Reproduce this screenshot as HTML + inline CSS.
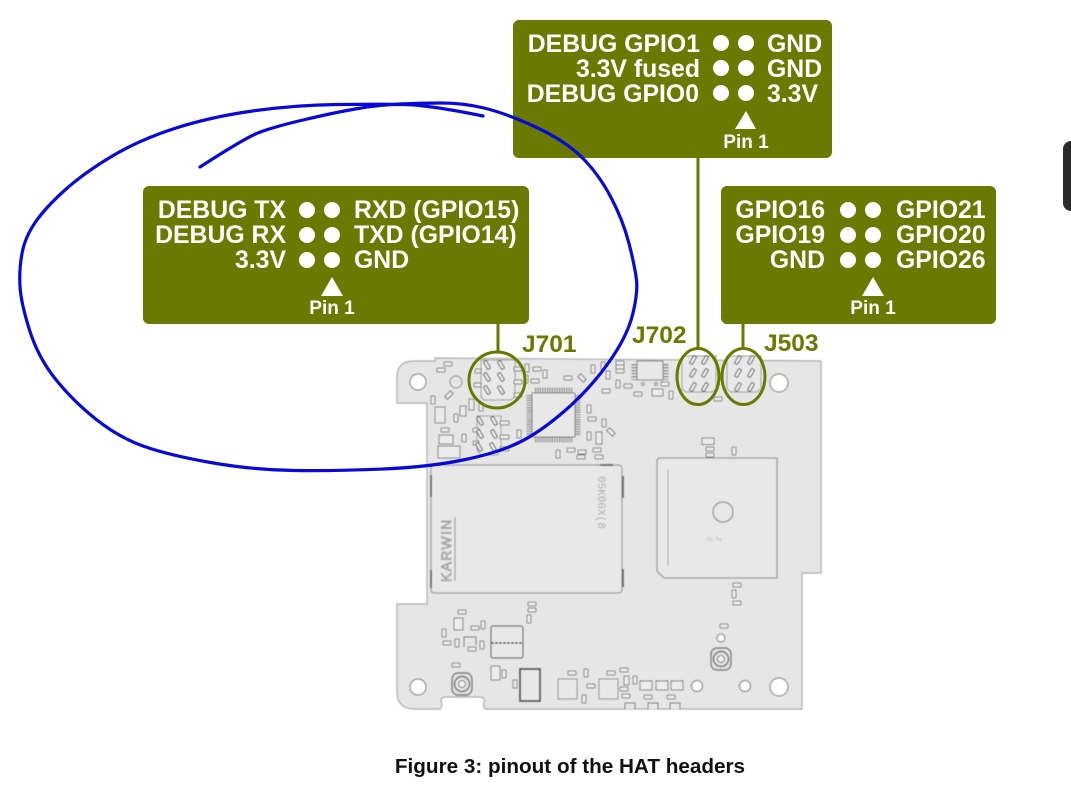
<!DOCTYPE html>
<html><head><meta charset="utf-8"><style>
html,body{margin:0;padding:0;background:#fff;width:1071px;height:800px;overflow:hidden}
svg{display:block}
.t{font-family:"Liberation Sans",sans-serif;font-weight:700;fill:#fff;font-size:24.8px}
.p{font-family:"Liberation Sans",sans-serif;font-weight:700;fill:#fff;font-size:19px;text-anchor:middle}
.r{text-anchor:end}
.j{font-family:"Liberation Sans",sans-serif;font-weight:700;fill:#6b7a00;font-size:24.5px}
.c{fill:#ececec;stroke:#777;stroke-width:1}
</style></head><body>
<svg width="1071" height="800" viewBox="0 0 1071 800" xmlns="http://www.w3.org/2000/svg">
<defs>
<filter id="b" x="-5%" y="-5%" width="110%" height="110%"><feGaussianBlur stdDeviation="0.45"/></filter>
<filter id="s" x="-2%" y="-2%" width="104%" height="104%"><feGaussianBlur stdDeviation="0.25"/></filter>
<rect id="h" x="-4" y="-2" width="8" height="4" rx=".6" class="c"/>
<rect id="v" x="-2" y="-4" width="4" height="8" rx=".6" class="c"/>
<rect id="pa" x="-1.7" y="-4.5" width="3.4" height="9" rx="1.4" transform="rotate(-30)" fill="#eee" stroke="#555"/>
<rect id="pb" x="-1.7" y="-4.5" width="3.4" height="9" rx="1.4" transform="rotate(30)" fill="#eee" stroke="#555"/>
<g id="sm"><path d="M-6 -4H6V5H-6Z" class="c"/><path d="M-5 -4v-1M5 -4v-1" stroke="#666"/></g>
<g id="rf"><rect x="-10" y="-11" width="20" height="22" rx="6" fill="#e2e2e2" stroke="#777" stroke-width="1.4"/><circle r="7.5" fill="#e6e6e6" stroke="#666" stroke-width="1.4"/><circle r="3.5" fill="#f4f4f4" stroke="#777"/></g>
</defs>
<rect width="1071" height="800" fill="#fff"/>
<rect x="1063" y="141" width="20" height="70" rx="8" fill="#2b2b2b"/>

<g filter="url(#b)">
<!-- board -->
<path d="M435 358V361H414Q397 361 397 377V403H427V604H397V692Q397 709 415 709H440Q443 706 441 701Q441 697 445 697H480Q485 697 484 702Q483 706 485 709H802V573H821V361Z" fill="#e6e6e6" stroke="#aaa" stroke-width="1.2"/>
<g fill="#fff" stroke="#888" stroke-width="1.2">
<circle cx="418" cy="382" r="8"/><circle cx="779" cy="383" r="9"/><circle cx="418" cy="687" r="8"/><circle cx="779" cy="687" r="9"/>
<circle cx="697" cy="686" r="5.5"/><circle cx="745" cy="686" r="5.5"/><circle cx="721" cy="638" r="4"/>
</g>

<!-- shield -->
<path d="M435 465H618Q622 465 622 469V590Q622 593 618 593H435Q431 593 431 590V469Q431 465 435 465Z" fill="#e8e8e8" stroke="#999" stroke-width="1.2"/>
<path d="M431 475v22M431 570v18M623 476v22M623 569v18M600 465h13" stroke="#666" stroke-width="2"/>
<text transform="translate(451 582) rotate(-90)" font-family="Liberation Sans,sans-serif" font-size="14" letter-spacing="1.3" fill="#e8e8e8" stroke="#777" stroke-width=".6">KARWIN</text>
<path d="M455 517V581" stroke="#888"/>
<text transform="translate(598 476) rotate(90)" font-family="Liberation Mono,monospace" font-size="11" fill="#aaa">05K00X(8</text>

<!-- module -->
<path d="M659 458H777V578H664L657 571V460Z" fill="#e8e8e8" stroke="#999" stroke-width="1.3"/>
<path d="M668 469V566" stroke="#aaa"/>
<circle cx="723" cy="512" r="10" fill="#e8e8e8" stroke="#888" stroke-width="1.2"/>
<text x="704" y="541" font-family="Liberation Sans,sans-serif" font-size="5" fill="#bbb">. Oy, Ra ·</text>

<!-- QFP -->
<path d="M535 390H573M535 440H573" stroke="#888" stroke-width="5" stroke-dasharray="1.2 1.2"/>
<path d="M529 395V436M578 395V436" stroke="#888" stroke-width="5" stroke-dasharray="1.2 1.2"/>
<rect x="532" y="393" width="43" height="44" fill="#e8e8e8" stroke="#777"/>

<!-- SOIC -->
<path d="M634 364V380M666 364V380" stroke="#888" stroke-width="5" stroke-dasharray="1.5 1.5"/>
<rect x="637" y="361" width="26" height="19" fill="#e8e8e8" stroke="#777"/>

<!-- connectors -->
<g fill="#e9e9e9" stroke="#999">
<path d="M481 360H515V397L510 400H484L481 397Z"/>
<path d="M477 416H501V450L497 455H481L477 450Z"/>
<path d="M682 356H716V389L712 392H686L682 389Z"/>
<path d="M727 356H761V389L757 392H731L727 389Z"/>
</g>
<g class="c">
<rect x="514" y="367" width="8" height="4" rx="1" class="c"/><rect x="514" y="380" width="8" height="4" rx="1" class="c"/><rect x="514" y="393" width="8" height="4" rx="1" class="c"/>
<rect x="475" y="369" width="6" height="4" rx="1" class="c"/><rect x="474" y="383" width="7" height="4" rx="1" class="c"/>
<rect x="500" y="421" width="9" height="4" rx="1" class="c"/><rect x="500" y="435" width="9" height="4" rx="1" class="c"/><rect x="500" y="447" width="9" height="4" rx="1" class="c"/>
<rect x="473" y="428" width="6" height="4" rx="1" class="c"/><rect x="473" y="441" width="6" height="4" rx="1" class="c"/>
</g>
<use href="#pa" x="487" y="365"/><use href="#pa" x="501" y="365"/><use href="#pa" x="487" y="377"/><use href="#pa" x="501" y="377"/><use href="#pa" x="487" y="390"/><use href="#pa" x="501" y="390"/>
<use href="#pa" x="480" y="421"/><use href="#pa" x="494" y="421"/><use href="#pa" x="480" y="434"/><use href="#pa" x="494" y="434"/><use href="#pa" x="479" y="447"/><use href="#pa" x="493" y="447"/>
<use href="#pb" x="693" y="360"/><use href="#pb" x="705" y="360"/><use href="#pb" x="693" y="373"/><use href="#pb" x="705" y="373"/><use href="#pb" x="693" y="387"/><use href="#pb" x="705" y="387"/>
<use href="#pb" x="738" y="360"/><use href="#pb" x="751" y="360"/><use href="#pb" x="738" y="373"/><use href="#pb" x="751" y="373"/><use href="#pb" x="738" y="387"/><use href="#pb" x="751" y="387"/>

<!-- small components top -->
<use href="#h" x="448" y="364"/><use href="#h" x="441" y="370"/><use href="#h" x="537" y="369"/><use href="#h" x="535" y="381"/><use href="#h" x="568" y="378"/>
<use href="#h" x="620" y="363"/><use href="#h" x="620" y="367"/><use href="#h" x="620" y="371"/><use href="#h" x="606" y="391"/><use href="#h" x="628" y="386"/><use href="#h" x="638" y="394"/><use href="#h" x="665" y="384"/><use href="#h" x="718" y="399"/>
<use href="#h" x="445" y="430"/><use href="#h" x="592" y="419"/><use href="#h" x="571" y="450"/><use href="#h" x="582" y="452"/><use href="#h" x="581" y="457"/><use href="#h" x="597" y="450"/><use href="#h" x="599" y="457"/>
<use href="#v" x="433" y="400"/><use href="#v" x="527" y="368"/><use href="#v" x="545" y="374"/><use href="#v" x="526" y="379"/><use href="#v" x="593" y="369"/><use href="#v" x="603" y="366"/><use href="#v" x="608" y="375"/><use href="#v" x="618" y="384"/><use href="#v" x="671" y="395"/>
<use href="#v" x="481" y="407"/><use href="#v" x="456" y="418"/><use href="#v" x="464" y="438"/><use href="#v" x="519" y="434"/><use href="#v" x="589" y="409"/><use href="#v" x="604" y="423"/><use href="#v" x="589" y="436"/><use href="#v" x="558" y="454"/>
<g class="c">
<rect x="445" y="393" width="8" height="4" transform="rotate(-45 449 395)" class="c"/>
<rect x="578" y="376" width="8" height="4" transform="rotate(45 582 378)" class="c"/>
<rect x="607" y="430" width="8" height="4" transform="rotate(45 611 432)" class="c"/>
<rect x="469" y="399" width="5" height="11" class="c"/><rect x="460" y="406" width="6" height="10" class="c"/>
<rect x="435" y="407" width="10" height="16" class="c"/>
<rect x="439" y="435" width="14" height="9" class="c"/><rect x="438" y="446" width="22" height="12" class="c"/>
<rect x="652" y="389" width="11" height="7" class="c"/><rect x="596" y="432" width="6" height="12" class="c"/>
</g>
<circle cx="456" cy="382" r="6" fill="#e6e6e6" stroke="#888"/><circle cx="643" cy="384" r="1.5" fill="#e6e6e6" stroke="#888"/><circle cx="656" cy="384" r="1.5" fill="#e6e6e6" stroke="#888"/>

<!-- above/below module -->
<rect x="702" y="438" width="12" height="6.5" class="c"/><use href="#h" x="710" y="449"/><use href="#h" x="710" y="455"/><use href="#v" x="734" y="451"/><use href="#h" x="737" y="585"/><use href="#v" x="734" y="594"/><use href="#h" x="737" y="603"/>

<!-- bottom components -->
<use href="#h" x="462" y="612"/><use href="#h" x="532" y="604"/><use href="#h" x="532" y="610"/><use href="#v" x="529" y="619"/><use href="#h" x="475" y="628"/><use href="#v" x="483" y="625"/><use href="#v" x="444" y="633"/><use href="#h" x="447" y="643"/><use href="#v" x="457" y="643"/><use href="#h" x="472" y="649"/><use href="#v" x="482" y="645"/><use href="#h" x="456" y="665"/>
<rect x="454" y="618" width="9" height="12" class="c"/>
<path d="M464 647V637H476V645" fill="none" stroke="#666"/>
<rect x="491" y="626" width="32" height="32" rx="2" fill="#e8e8e8" stroke="#666" stroke-width="1.2"/><path d="M491 643H523" stroke="#555" stroke-width="1.6" stroke-dasharray="3 1"/>
<use href="#rf" x="462" y="684"/><use href="#rf" x="721" y="659"/>
<rect x="491" y="666" width="9" height="14" class="c"/><use href="#v" x="504" y="674"/><use href="#v" x="515" y="684"/>
<rect x="520" y="669" width="20" height="32" fill="#e8e8e8" stroke="#555" stroke-width="2"/>
<use href="#h" x="572" y="673"/><use href="#v" x="586" y="673"/><use href="#h" x="591" y="686"/><use href="#v" x="584" y="699"/><use href="#h" x="611" y="673"/><use href="#h" x="624" y="670"/><use href="#v" x="635" y="680"/><use href="#h" x="624" y="689"/><use href="#h" x="626" y="696"/><use href="#h" x="648" y="697"/><use href="#h" x="671" y="697"/><use href="#h" x="724" y="626"/>
<rect x="558" y="679" width="19" height="20" fill="#e8e8e8" stroke="#888"/><rect x="599" y="679" width="19" height="20" fill="#e8e8e8" stroke="#888"/>
<rect x="624" y="676" width="5" height="9" class="c"/>
<use href="#sm" x="646" y="685"/><use href="#sm" x="662" y="685"/><use href="#sm" x="677" y="685"/>
<path d="M625 709V703H635V709M648 709V703H658V709M670 709V703H680V709" fill="#e8e8e8" stroke="#666"/>
</g>

<g filter="url(#s)">
<!-- circles & leaders -->
<path d="M498 324V352M698 158V348M743 324V348" stroke="#6b7a00" stroke-width="3" fill="none"/>
<g fill="none" stroke="#6b7a00" stroke-width="3">
<ellipse cx="497" cy="380" rx="28" ry="28"/><ellipse cx="698" cy="376.500" rx="21" ry="28"/><ellipse cx="743.500" cy="376.500" rx="21.500" ry="28"/>
</g>
<text class="j" x="522" y="352">J701</text><text class="j" x="632" y="343">J702</text><text class="j" x="764" y="351">J503</text>

<!-- top panel -->
<rect x="513" y="20" width="319" height="138" rx="6" fill="#6b7a00"/>
<text class="t r" x="700" y="52">DEBUG GPIO1</text><text class="t r" x="700" y="77">3.3V fused</text><text class="t r" x="699" y="102">DEBUG GPIO0</text>
<text class="t" x="767" y="52">GND</text><text class="t" x="767" y="77">GND</text><text class="t" x="767" y="102">3.3V</text>
<g fill="#fff"><circle cx="721" cy="43" r="8"/><circle cx="746" cy="43" r="8"/><circle cx="721" cy="68" r="8"/><circle cx="746" cy="68" r="8"/><circle cx="721" cy="93" r="8"/><circle cx="746" cy="93" r="8"/><path d="M746 111L756 129H735Z"/></g>
<text class="p" x="746" y="148">Pin 1</text>

<!-- left panel -->
<rect x="143" y="186" width="386" height="138" rx="6" fill="#6b7a00"/>
<text class="t r" x="286" y="218">DEBUG TX</text><text class="t r" x="286" y="243">DEBUG RX</text><text class="t r" x="286" y="268">3.3V</text>
<text class="t" x="354" y="218">RXD (GPIO15)</text><text class="t" x="354" y="243">TXD (GPIO14)</text><text class="t" x="354" y="268">GND</text>
<g fill="#fff"><circle cx="307" cy="210" r="8"/><circle cx="332" cy="210" r="8"/><circle cx="307" cy="235" r="8"/><circle cx="332" cy="235" r="8"/><circle cx="307" cy="260" r="8"/><circle cx="332" cy="260" r="8"/><path d="M332 277L343 296H321Z"/></g>
<text class="p" x="332" y="314">Pin 1</text>

<!-- right panel -->
<rect x="721" y="186" width="275" height="138" rx="6" fill="#6b7a00"/>
<text class="t r" x="825" y="218">GPIO16</text><text class="t r" x="825" y="243">GPIO19</text><text class="t r" x="825" y="268">GND</text>
<text class="t" x="896" y="218">GPIO21</text><text class="t" x="896" y="243">GPIO20</text><text class="t" x="896" y="268">GPIO26</text>
<g fill="#fff"><circle cx="848" cy="210" r="8"/><circle cx="873" cy="210" r="8"/><circle cx="848" cy="235" r="8"/><circle cx="873" cy="235" r="8"/><circle cx="848" cy="260" r="8"/><circle cx="873" cy="260" r="8"/><path d="M873 277L884 296H862Z"/></g>
<text class="p" x="873" y="314">Pin 1</text>
</g>

<!-- blue annotation -->
<path d="M200 167Q242 140 255.500 134Q269 128 303 120Q337 112 358 108.500Q379 105 400 104Q421 103 442 103Q463 103 484 108Q505 113 534.500 126.500Q564 140 581 156.500Q598 173 610.500 196.500Q623 220 629 243.500Q635 267 636.500 280Q638 293 632.500 315Q627 337 608 363.500Q589 390 564 411.500Q539 433 518 443Q497 453 463 460Q429 467 383 469Q337 471 295 470.500Q253 470 210.500 462.500Q168 455 143 446Q118 437 95 418.500Q72 400 55 378.500Q38 357 29.500 330Q21 303 20 286.500Q19 270 22 253.500Q25 237 35.500 222Q46 207 65 190Q84 173 111.500 156.500Q139 140 174.500 128.500Q210 117 252.500 111Q295 105 337 104.500Q379 104 404 104.500Q429 105 483 116" fill="none" stroke="#0808d8" stroke-width="3.200" stroke-linecap="round" stroke-linejoin="round"/>

<text x="570" y="773" text-anchor="middle" font-family="Liberation Sans,sans-serif" font-weight="700" font-size="20.700" fill="#111">Figure 3: pinout of the HAT headers</text>
</svg>
</body></html>
